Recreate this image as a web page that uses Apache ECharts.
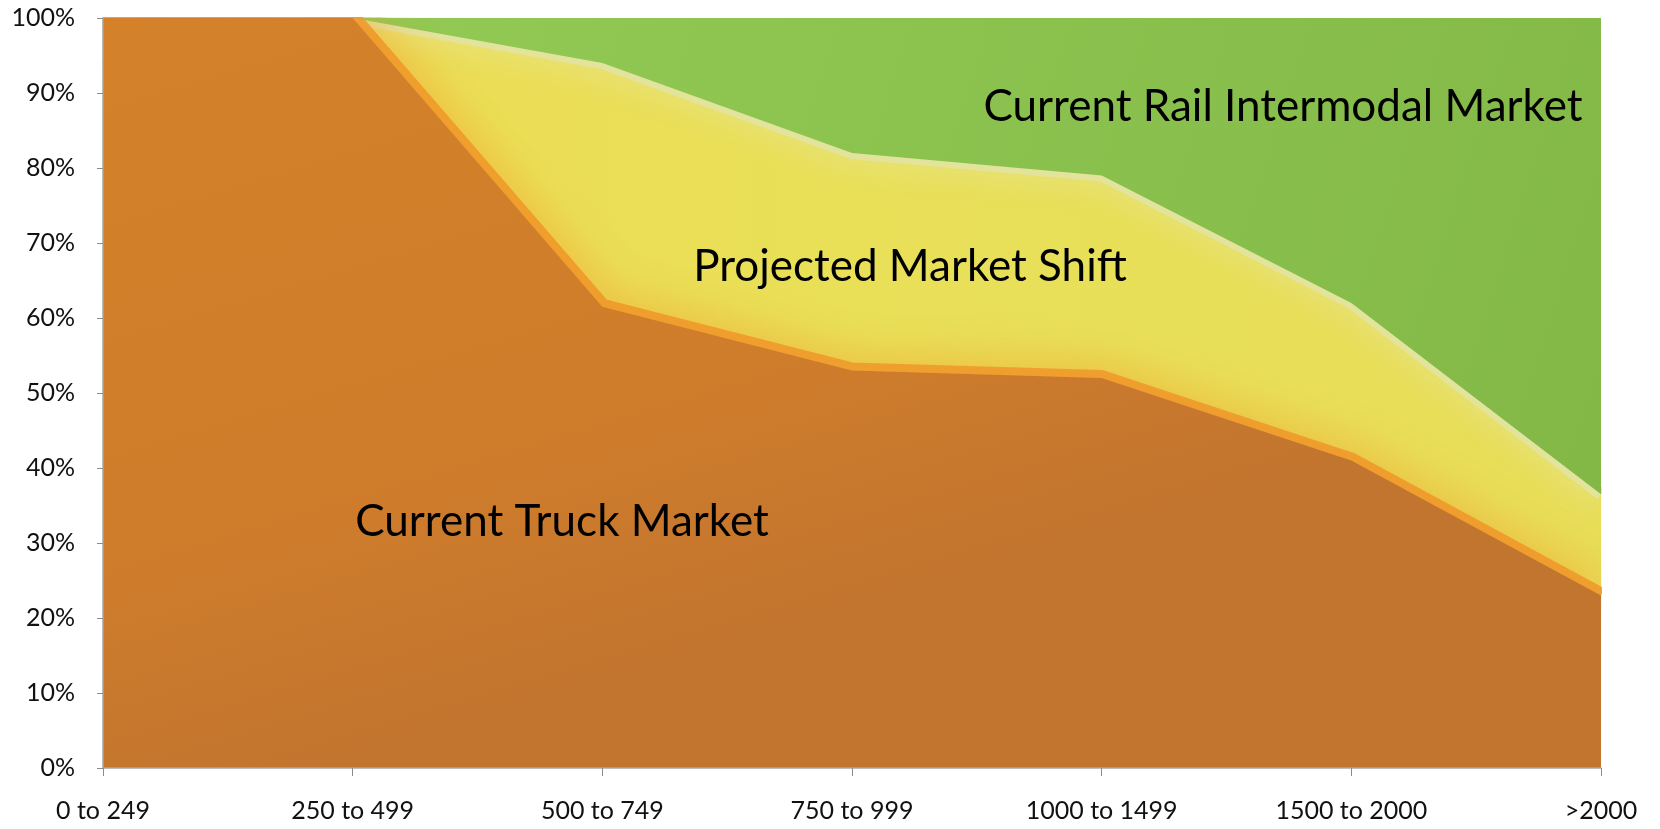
<!DOCTYPE html>
<html>
<head>
<meta charset="utf-8">
<script src="https://cdn.jsdelivr.net/npm/echarts@6/dist/echarts.min.js"></script>
<style>
html,body{margin:0;padding:0;background:#fff;}
#chart{width:1660px;height:829px;}
</style>
</head>
<body>
<div id="chart"></div>
<script>
const categories = ['0 to 249','250 to 499','500 to 749','750 to 999','1000 to 1499','1500 to 2000','>2000'];
const truckMarket = [100, 100, 61.5, 53, 52, 41, 23];
const projectedShift = [0, 0, 32.5, 29, 27, 21, 13.5];
const railMarket = [0, 0, 6, 18, 21, 38, 63.5];
const yTicks = [0,10,20,30,40,50,60,70,80,90,100];
const areaLabels = ['Current Rail Intermodal Market', 'Projected Market Shift', 'Current Truck Market'];

const chart = echarts.init(document.getElementById('chart'));
const font = 'Lato, "Open Sans", sans-serif';
const G = echarts.graphic.LinearGradient;

chart.setOption({
  animation: false,
  grid: {left: 103, right: 59, top: 18, bottom: 61},
  xAxis: {
    type: 'category', data: categories, boundaryGap: false, z: 20,
    axisLine: {lineStyle: {color: '#A6A6A6', width: 1.5}},
    axisTick: {show: true, length: 8, alignWithLabel: true, lineStyle: {color: '#8C8C8C'}},
    axisLabel: {color: '#111', fontFamily: font, fontSize: 25, margin: 30, interval: 0}
  },
  yAxis: {
    type: 'value', min: 0, max: 100, interval: 10, z: 20,
    axisLine: {show: true, lineStyle: {color: '#A6A6A6', width: 1.5}},
    axisTick: {show: true, length: 6, lineStyle: {color: '#8C8C8C'}},
    splitLine: {show: false},
    axisLabel: {color: '#111', fontFamily: font, fontSize: 25, margin: 28,
      formatter: v => yTicks.includes(v) ? v + '%' : ''}
  },
  series: [
    {
      name: 'Current Truck Market', type: 'line', stack: 'all', data: truckMarket, z: 5,
      symbol: 'none', lineStyle: {width: 0},
      areaStyle: {opacity: 1, color: new G(0, 0, 0.15, 1, [
        {offset: 0, color: '#D4812A'},
        {offset: 0.65, color: '#D07D2B'},
        {offset: 1, color: '#C2752F'}
      ])}
    },
    {
      name: 'Projected Market Shift', type: 'line', stack: 'all', data: projectedShift, z: 2,
      symbol: 'none',
      lineStyle: {width: 12, color: 'rgba(226,228,165,0.85)', shadowBlur: 30, shadowColor: 'rgba(228,230,170,1)', join: 'round'},
      areaStyle: {opacity: 1, color: new G(0, 0, 1, 0, [
        {offset: 0, color: '#EEDC55'},
        {offset: 0.5, color: '#E9E058'},
        {offset: 1, color: '#E8DE58'}
      ])}
    },
    {
      name: 'Current Rail Intermodal Market', type: 'line', stack: 'all', data: railMarket, z: 3,
      symbol: 'none', lineStyle: {width: 0},
      areaStyle: {opacity: 1, color: new G(0, 0, 1, 1, [
        {offset: 0, color: '#96CB57'},
        {offset: 0.5, color: '#8CC34F'},
        {offset: 1, color: '#83B847'}
      ])}
    },
    {
      name: 'truck edge glow', type: 'line', data: truckMarket, z: 4,
      symbol: 'none', silent: true,
      lineStyle: {width: 16, color: 'rgba(240,150,40,0.85)', shadowBlur: 40, shadowColor: 'rgba(242,148,36,1)', join: 'round'}
    }
  ],
  graphic: [
    {type: 'rect', z: 15, silent: true, shape: {x: 0, y: 0, width: 102, height: 60}, style: {fill: '#fff'}},
    {type: 'rect', z: 15, silent: true, shape: {x: 0, y: 0, width: 1660, height: 17}, style: {fill: '#fff'}},
    {type: 'rect', z: 15, silent: true, shape: {x: 1602, y: 0, width: 58, height: 768}, style: {fill: '#fff'}},
    {type: 'text', x: 1283, y: 107, z: 30, style: {text: areaLabels[0], fill: '#000', font: '44px ' + font, align: 'center', verticalAlign: 'middle'}},
    {type: 'text', x: 910, y: 267, z: 30, style: {text: areaLabels[1], fill: '#000', font: '44px ' + font, align: 'center', verticalAlign: 'middle'}},
    {type: 'text', x: 562, y: 522, z: 30, style: {text: areaLabels[2], fill: '#000', font: '44px ' + font, align: 'center', verticalAlign: 'middle'}}
  ]
});
</script>
</body>
</html>
